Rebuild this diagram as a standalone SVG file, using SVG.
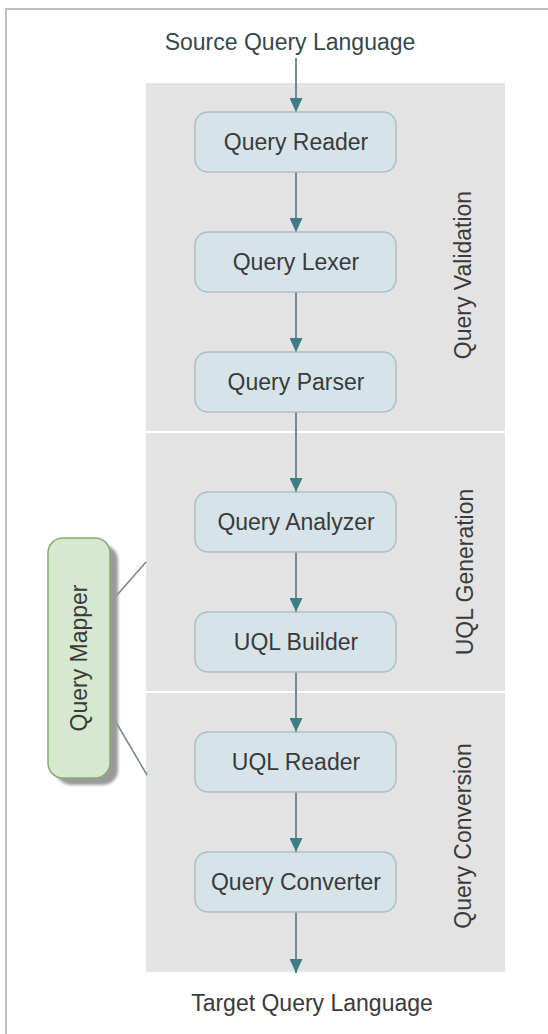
<svg xmlns="http://www.w3.org/2000/svg" width="548" height="1034" viewBox="0 0 548 1034">
  <style>
    .node rect { fill: #d6e4e9; stroke: #aebfc4; stroke-width: 1.5; }
    .label { font-family: "Liberation Sans", Arial, sans-serif; font-size: 23px; fill: #3a3a3a; text-anchor: middle; }
    .io { fill: #34484e; }
    .lane { font-family: "Liberation Sans", Arial, sans-serif; font-size: 23px; fill: #3a3a3a; text-anchor: middle; }
    .flow { stroke: #6f8d93; stroke-width: 2; fill: none; marker-end: url(#arrow); }
    .link { stroke: #6d888d; stroke-width: 1.5; fill: none; }
  </style>
  <defs>
    <marker id="arrow" viewBox="0 0 14 13" refX="14" refY="6.5" markerWidth="14" markerHeight="13" markerUnits="userSpaceOnUse" orient="auto">
      <path d="M0,0 L14,6.5 L0,13 Z" fill="#3e7c86"/>
    </marker>
    <filter id="soft" x="-20%" y="-10%" width="140%" height="120%">
      <feGaussianBlur stdDeviation="1.5"/>
    </filter>
  </defs>

  <!-- page background and frame -->
  <rect x="0" y="0" width="548" height="1034" fill="#ffffff"/>
  <line x1="6" y1="9" x2="6" y2="1034" stroke="#c0c0c0" stroke-width="2"/>
  <line x1="5" y1="9" x2="548" y2="9" stroke="#c0c0c0" stroke-width="2"/>

  <!-- swimlane panel -->
  <g id="lanes">
    <rect x="146" y="83" width="359" height="889" fill="#e3e3e3"/>
    <line x1="146" y1="432" x2="505" y2="432" stroke="#ffffff" stroke-width="2"/>
    <line x1="146" y1="692" x2="505" y2="692" stroke="#ffffff" stroke-width="2"/>
    <text class="lane" transform="translate(471,275) rotate(-90)">Query Validation</text>
    <text class="lane" transform="translate(473,572) rotate(-90)">UQL Generation</text>
    <text class="lane" transform="translate(471,836) rotate(-90)">Query Conversion</text>
  </g>

  <!-- connectors -->
  <g id="connectors">
    <line class="flow" x1="296" y1="58" x2="296" y2="112"/>
    <line class="flow" x1="296" y1="172" x2="296" y2="232"/>
    <line class="flow" x1="296" y1="292" x2="296" y2="352"/>
    <line class="flow" x1="296" y1="412" x2="296" y2="492"/>
    <line class="flow" x1="296" y1="552" x2="296" y2="612"/>
    <line class="flow" x1="296" y1="672" x2="296" y2="732"/>
    <line class="flow" x1="296" y1="792" x2="296" y2="852"/>
    <line class="flow" x1="296" y1="912" x2="296" y2="973"/>
    <line class="link" x1="110" y1="603" x2="146" y2="562"/>
    <line class="link" x1="110" y1="712" x2="147" y2="775"/>
  </g>

  <!-- input / output labels -->
  <g id="source">
    <text class="label io" x="290" y="50">Source Query Language</text>
  </g>
  <g id="target">
    <text class="label" x="312" y="1011">Target Query Language</text>
  </g>

  <!-- process nodes -->
  <g id="query-reader" class="node">
    <rect x="195" y="112" width="201" height="60" rx="13"/>
    <text class="label" x="296" y="150">Query Reader</text>
  </g>
  <g id="query-lexer" class="node">
    <rect x="195" y="232" width="201" height="60" rx="13"/>
    <text class="label" x="296" y="270">Query Lexer</text>
  </g>
  <g id="query-parser" class="node">
    <rect x="195" y="352" width="201" height="60" rx="13"/>
    <text class="label" x="296" y="390">Query Parser</text>
  </g>
  <g id="query-analyzer" class="node">
    <rect x="195" y="492" width="201" height="60" rx="13"/>
    <text class="label" x="296" y="530">Query Analyzer</text>
  </g>
  <g id="uql-builder" class="node">
    <rect x="195" y="612" width="201" height="60" rx="13"/>
    <text class="label" x="296" y="650">UQL Builder</text>
  </g>
  <g id="uql-reader" class="node">
    <rect x="195" y="732" width="201" height="60" rx="13"/>
    <text class="label" x="296" y="770">UQL Reader</text>
  </g>
  <g id="query-converter" class="node">
    <rect x="195" y="852" width="201" height="60" rx="13"/>
    <text class="label" x="296" y="890">Query Converter</text>
  </g>

  <!-- side component -->
  <g id="query-mapper">
    <rect x="56" y="545" width="62" height="240" rx="15" fill="#9a9a9a" filter="url(#soft)"/>
    <rect x="48" y="538" width="62" height="240" rx="15" fill="#d6e8d0" stroke="#86ad72" stroke-width="1.5"/>
    <text class="label" transform="translate(87,658) rotate(-90)">Query Mapper</text>
  </g>
</svg>
